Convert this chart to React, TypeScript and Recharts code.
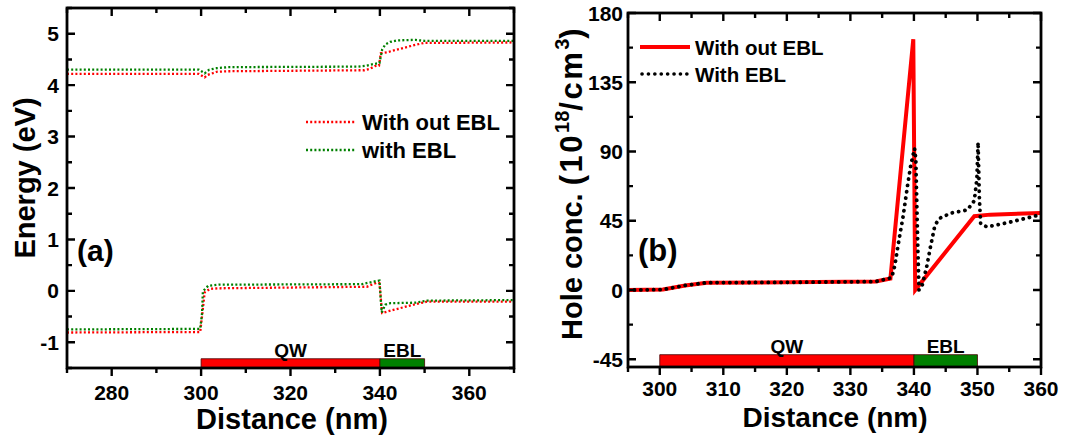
import { LineChart, Line, XAxis, YAxis, ReferenceArea } from 'recharts'

const FONT = '"Liberation Sans", Arial, Helvetica, sans-serif'

// panel (a): band edges vs distance (nm), energy in eV
const cbWithoutEbl = [
  [270, 4.22], [299.5, 4.22], [300.8, 4.15], [301.5, 4.2], [303.5, 4.26], [306, 4.27],
  [336.5, 4.29], [337.8, 4.32], [338.9, 4.37], [339.8, 4.38], [340.2, 4.62], [341.6, 4.64],
  [343.8, 4.69], [346, 4.74], [348.3, 4.79], [349.8, 4.82], [370, 4.83],
]
const cbWithEbl = [
  [270, 4.3], [299.5, 4.3], [300.8, 4.23], [301.8, 4.3], [303.5, 4.33], [306, 4.35],
  [335, 4.36], [337, 4.38], [338.6, 4.41], [339.9, 4.43], [340.5, 4.69], [341.2, 4.79],
  [342.3, 4.84], [343.8, 4.87], [348, 4.88], [350, 4.86], [370, 4.86],
]
const vbWithoutEbl = [
  [270, -0.81], [299.8, -0.8], [300.2, -0.5], [300.8, -0.03], [302, 0.04], [304, 0.05],
  [337.1, 0.08], [339.3, 0.16], [339.9, 0.15], [340.5, -0.43], [343, -0.37], [347.5, -0.27],
  [350.5, -0.21], [370, -0.21],
]
const vbWithEbl = [
  [270, -0.75], [299.8, -0.74], [300.2, -0.45], [300.4, -0.01], [301.6, 0.1], [304, 0.12],
  [336, 0.13], [338.6, 0.18], [339.9, 0.2], [340.4, -0.42], [341.2, -0.27], [342.3, -0.24],
  [348, -0.23], [350.5, -0.19], [370, -0.18],
]

// panel (b): hole concentration, 1e18 cm^-3
const holeWithoutEbl = [
  [295, 0], [300.5, 0.3], [304, 3], [307.4, 4.8], [320, 5], [334, 5.5], [336.3, 7.5],
  [339.9, 163], [340.2, 0], [349.5, 48], [352, 49], [360, 50],
]
const holeWithEbl = [
  [295, 0], [300.5, 0.3], [304, 3], [307.4, 4.8], [320, 5], [334, 5.5], [336.5, 8],
  [337, 16], [337.5, 29], [338.3, 48], [339, 68], [339.5, 81], [340.1, 92], [340.3, 85],
  [340.6, 30], [340.8, 0], [341.3, 3], [342, 15], [342.6, 28], [343.3, 42], [344, 46.5],
  [345.8, 50], [348.4, 52], [349.5, 58], [349.9, 72], [350.1, 96], [350.3, 60], [350.5, 43],
  [351.5, 41], [355, 44], [360, 49],
]

const energyXTicks = [270, 280, 290, 300, 310, 320, 330, 340, 350, 360, 370]
const energyXLabels = [280, 300, 320, 340, 360]
const energyYTicks = [-1.5, -1, -0.5, 0, 0.5, 1, 1.5, 2, 2.5, 3, 3.5, 4, 4.5, 5, 5.5]
const energyYLabels = [-1, 0, 1, 2, 3, 4, 5]

const holeXTicks = [295, 300, 305, 310, 315, 320, 325, 330, 335, 340, 345, 350, 355, 360]
const holeXLabels = [300, 310, 320, 330, 340, 350, 360]
const holeYTicks = [-45, -22.5, 0, 22.5, 45, 67.5, 90, 112.5, 135, 157.5, 180]
const holeYLabels = [-45, 0, 45, 90, 135, 180]

const layers = [
  { name: 'QW', from: 300, to: 340 },
  { name: 'EBL', from: 340, to: 350 },
]
const layerColors = ['#ff0000', '#008000']

const toPoints = (pairs: number[][]) => pairs.map(([x, y]) => ({ x, y }))

// plot boxes in page pixels (follow from the chart sizes/margins below)
const boxA = { left: 67, right: 514, top: 8, bottom: 368, xDom: [270, 370], yDom: [-1.5, 5.5] }
const boxB = { left: 628, right: 1041, top: 13, bottom: 367, xDom: [295, 360], yDom: [-50, 180] }

type Side = 'bottom' | 'left'

// labels only; the tick marks and the frame are drawn in the overlay
function axisLabel(side: Side, labels: number[], gap: number) {
  return (props: any) => {
    const { x, y, payload } = props
    const value = payload.value as number
    if (!labels.includes(value)) return <g />
    const textStyle = { fontSize: 21, fontWeight: 700, fontFamily: FONT, fill: '#000' }
    return side === 'bottom' ? (
      <text x={x} y={y + gap} textAnchor='middle' {...textStyle}>{value}</text>
    ) : (
      <text x={x - gap} y={y + 7.5} textAnchor='end' {...textStyle}>{value}</text>
    )
  }
}

function FrameTicks({ box, xTicks, xLabels, yTicks, yLabels }: any) {
  const sx = (v: number) => box.left + ((v - box.xDom[0]) / (box.xDom[1] - box.xDom[0])) * (box.right - box.left)
  const sy = (v: number) => box.bottom - ((v - box.yDom[0]) / (box.yDom[1] - box.yDom[0])) * (box.bottom - box.top)
  const parts: string[] = []
  xTicks.forEach((t: number) => {
    const len = xLabels.includes(t) ? 8 : 5
    const x = sx(t)
    parts.push(`M${x},${box.bottom}v${len}`) // bottom ticks hang below the axis
    parts.push(`M${x},${box.top}v${len}`)
  })
  yTicks.forEach((t: number) => {
    const len = yLabels.includes(t) ? 8 : 5
    const y = sy(t)
    parts.push(`M${box.left},${y}h${len}`)
    parts.push(`M${box.right},${y}h${-len}`)
  })
  return (
    <g>
      <path d={parts.join('')} stroke='#000' strokeWidth={2.4} fill='none' />
      <rect x={box.left} y={box.top} width={box.right - box.left} height={box.bottom - box.top} fill='none' stroke='#000' strokeWidth={2.8} />
    </g>
  )
}

const axisCommon = { type: 'number' as const, allowDataOverflow: true, interval: 0, tickSize: 0, tickMargin: 0, axisLine: false, tickLine: false }

function EnergyPanel() {
  return (
    <LineChart width={550} height={437} margin={{ top: 8, right: 36, bottom: 0, left: 0 }}>
      <XAxis dataKey='x' {...axisCommon} domain={[270, 370]} ticks={energyXTicks} height={69} tick={axisLabel('bottom', energyXLabels, 31.5)} />
      <YAxis {...axisCommon} domain={[-1.5, 5.5]} ticks={energyYTicks} width={67} tick={axisLabel('left', energyYLabels, 8)} />
      {layers.map((l, i) => (
        <ReferenceArea
          key={l.name}
          x1={l.from}
          x2={l.to}
          y1={-1.5}
          y2={-1.32}
          fill={layerColors[i]}
          fillOpacity={1}
          stroke='#400'
          strokeWidth={0.8}
          label={{ value: l.name, position: 'top', offset: 2, fill: '#000', fontSize: 19, fontWeight: 700, fontFamily: FONT }}
        />
      ))}
      <Line data={toPoints(cbWithoutEbl)} dataKey='y' type='linear' stroke='#ff0000' strokeWidth={2.3} strokeDasharray='2 2.2' dot={false} isAnimationActive={false} />
      <Line data={toPoints(cbWithEbl)} dataKey='y' type='linear' stroke='#008000' strokeWidth={2.3} strokeDasharray='2 2.2' dot={false} isAnimationActive={false} />
      <Line data={toPoints(vbWithoutEbl)} dataKey='y' type='linear' stroke='#ff0000' strokeWidth={2.3} strokeDasharray='2 2.2' dot={false} isAnimationActive={false} />
      <Line data={toPoints(vbWithEbl)} dataKey='y' type='linear' stroke='#008000' strokeWidth={2.3} strokeDasharray='2 2.2' dot={false} isAnimationActive={false} />
    </LineChart>
  )
}

function HolePanel() {
  return (
    <LineChart width={505} height={437} margin={{ top: 13, right: 24, bottom: 0, left: 0 }}>
      <XAxis dataKey='x' {...axisCommon} domain={[295, 360]} ticks={holeXTicks} height={70} tick={axisLabel('bottom', holeXLabels, 28.5)} />
      <YAxis {...axisCommon} domain={[-50, 180]} ticks={holeYTicks} width={68} tick={axisLabel('left', holeYLabels, 5)} />
      {layers.map((l, i) => (
        <ReferenceArea
          key={l.name}
          x1={l.from}
          x2={l.to}
          y1={-50}
          y2={-42}
          fill={layerColors[i]}
          fillOpacity={1}
          stroke='#400'
          strokeWidth={0.8}
          label={{ value: l.name, position: 'top', offset: 2, fill: '#000', fontSize: 19, fontWeight: 700, fontFamily: FONT }}
        />
      ))}
      <Line data={toPoints(holeWithoutEbl)} dataKey='y' type='linear' stroke='#ff0000' strokeWidth={4} dot={false} isAnimationActive={false} />
      <Line data={toPoints(holeWithEbl)} dataKey='y' type='linear' stroke='#000' strokeWidth={3.8} strokeDasharray='0.1 6.3' strokeLinecap='round' dot={false} isAnimationActive={false} />
    </LineChart>
  )
}

export default function App() {
  const bold = { fontFamily: FONT, fontWeight: 700, fill: '#000' }
  return (
    <div style={{ position: 'absolute', left: 0, top: 0, width: 1065, height: 437, background: '#fff' }}>
      <div style={{ position: 'absolute', left: 0, top: 0 }}>
        <EnergyPanel />
      </div>
      <div style={{ position: 'absolute', left: 560, top: 0 }}>
        <HolePanel />
      </div>
      <svg width={1065} height={437} style={{ position: 'absolute', left: 0, top: 0, pointerEvents: 'none' }}>
        <FrameTicks box={boxA} xTicks={energyXTicks} xLabels={energyXLabels} yTicks={energyYTicks} yLabels={energyYLabels} />
        <FrameTicks box={boxB} xTicks={holeXTicks} xLabels={holeXLabels} yTicks={holeYTicks} yLabels={holeYLabels} />

        {/* panel (a) */}
        <text x={292} y={428.5} textAnchor='middle' fontSize={29} {...bold}>Distance (nm)</text>
        <text x={35} y={178} textAnchor='middle' fontSize={29} transform='rotate(-90 35 178)' {...bold}>Energy (eV)</text>
        <text x={77} y={261} fontSize={30} {...bold}>(a)</text>
        <line x1={306} y1={122} x2={355} y2={122} stroke='#ff0000' strokeWidth={2.3} strokeDasharray='2 2.2' />
        <text x={362} y={130} fontSize={22} {...bold}>With out EBL</text>
        <line x1={306} y1={150} x2={355} y2={150} stroke='#008000' strokeWidth={2.3} strokeDasharray='2 2.2' />
        <text x={362} y={158} fontSize={22} {...bold}>with EBL</text>

        {/* panel (b) */}
        <text x={835} y={427} textAnchor='middle' fontSize={28} {...bold}>Distance (nm)</text>
        <text x={582} y={340} fontSize={29} transform='rotate(-90 582 340)' {...bold}>
          Hole conc.{' '}
          <tspan letterSpacing={2.5} fontSize={31}>(10</tspan>
          <tspan fontSize={20} dy={-13}>18</tspan>
          <tspan letterSpacing={2.5} fontSize={31} dy={13}>/cm</tspan>
          <tspan fontSize={20} dy={-13}>3</tspan>
          <tspan fontSize={31} dy={13}>)</tspan>
        </text>
        <text x={638} y={261} fontSize={31} {...bold}>(b)</text>
        <line x1={640} y1={47} x2={690} y2={47} stroke='#ff0000' strokeWidth={4} />
        <text x={695} y={54.5} fontSize={20.5} {...bold}>With out EBL</text>
        <line x1={642} y1={74} x2={688} y2={74} stroke='#000' strokeWidth={3.6} strokeDasharray='0.1 6.3' strokeLinecap='round' />
        <text x={695} y={81.5} fontSize={20.5} {...bold}>With EBL</text>
      </svg>
    </div>
  )
}
